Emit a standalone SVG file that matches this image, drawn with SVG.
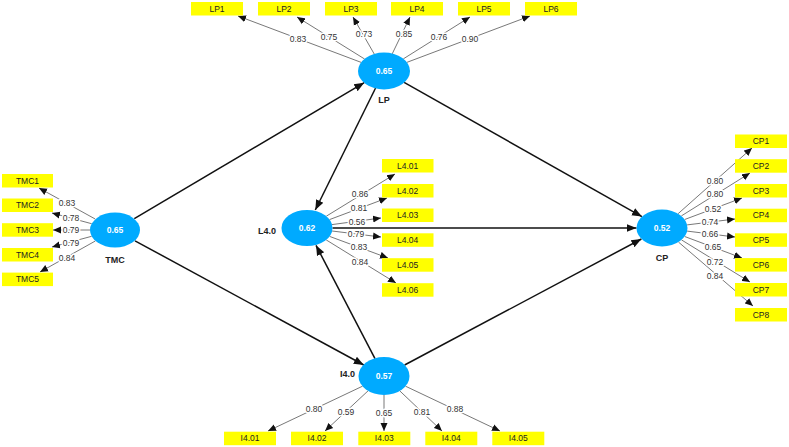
<svg xmlns="http://www.w3.org/2000/svg" width="789" height="447" viewBox="0 0 789 447">
<style>
.box{fill:#ffff00}
.bt{font-family:"Liberation Sans",Arial,sans-serif;font-size:8.5px;fill:#222;text-anchor:middle}
.lv{fill:#00aaff}
.lvt{font-family:"Liberation Sans",Arial,sans-serif;font-size:8.5px;font-weight:bold;fill:#fff;text-anchor:middle}
.nm{font-family:"Liberation Sans",Arial,sans-serif;font-size:9px;font-weight:bold;fill:#222}
.ld{stroke:#555;stroke-width:0.8;fill:none;marker-end:url(#sa)}
.st{stroke:#111;stroke-width:1.5;fill:none;marker-end:url(#ba)}
.lb{font-family:"Liberation Sans",Arial,sans-serif;font-size:8.5px;fill:#333;text-anchor:middle;stroke:#fff;stroke-width:3;paint-order:stroke;stroke-linejoin:round}
</style>
<defs>
<marker id="sa" markerUnits="userSpaceOnUse" markerWidth="8" markerHeight="8" viewBox="0 0 8 8" refX="8" refY="4" orient="auto"><path d="M0,0.5 L8,4 L0,7.5 Z" fill="#111"/></marker>
<marker id="ba" markerUnits="userSpaceOnUse" markerWidth="10" markerHeight="10" viewBox="0 0 10 10" refX="10" refY="5" orient="auto"><path d="M0,1 L10,5 L0,9 Z" fill="#111"/></marker>
</defs>
<rect width="789" height="447" fill="#fff"/>
<g id="connectors">
<line class="st" x1="134.3" y1="218.6" x2="364.2" y2="82.7"/>
<line class="st" x1="135" y1="240.8" x2="363.8" y2="365"/>
<line class="st" x1="375.6" y1="88" x2="315.3" y2="210"/>
<line class="st" x1="375" y1="358.7" x2="316" y2="245.3"/>
<line class="st" x1="404.1" y1="82.4" x2="641.9" y2="216.6"/>
<line class="st" x1="404.6" y1="365" x2="641.4" y2="239"/>
<line class="st" x1="332.5" y1="228" x2="636.5" y2="228"/>
<line class="ld" x1="361.2" y1="62.4" x2="238" y2="16"/>
<line class="ld" x1="364.6" y1="59" x2="297" y2="17"/>
<line class="ld" x1="374.4" y1="54.3" x2="353" y2="17"/>
<line class="ld" x1="392.2" y1="53.9" x2="410" y2="17"/>
<line class="ld" x1="403.3" y1="58.9" x2="470" y2="17"/>
<line class="ld" x1="406.8" y1="62.4" x2="530" y2="16"/>
<line class="ld" x1="95.2" y1="219" x2="39" y2="188"/>
<line class="ld" x1="91.6" y1="223.7" x2="52" y2="213"/>
<line class="ld" x1="90" y1="230" x2="53" y2="230"/>
<line class="ld" x1="91.6" y1="236.3" x2="52" y2="247"/>
<line class="ld" x1="95.3" y1="241" x2="40" y2="272"/>
<line class="ld" x1="326.3" y1="216.2" x2="395" y2="174"/>
<line class="ld" x1="329.5" y1="219.6" x2="387" y2="198"/>
<line class="ld" x1="332" y1="224.6" x2="381" y2="218"/>
<line class="ld" x1="332.1" y1="231" x2="381" y2="237"/>
<line class="ld" x1="329.6" y1="236.4" x2="388" y2="258"/>
<line class="ld" x1="326.2" y1="239.9" x2="396" y2="283"/>
<line class="ld" x1="678.1" y1="213.7" x2="752" y2="148"/>
<line class="ld" x1="681.4" y1="215.9" x2="750" y2="173"/>
<line class="ld" x1="684.7" y1="219.5" x2="742" y2="198"/>
<line class="ld" x1="687.1" y1="224.9" x2="735" y2="219"/>
<line class="ld" x1="687.1" y1="231.1" x2="735" y2="237"/>
<line class="ld" x1="684.7" y1="236.5" x2="742" y2="258"/>
<line class="ld" x1="681.5" y1="239.9" x2="750" y2="282"/>
<line class="ld" x1="678.5" y1="242.1" x2="753" y2="306"/>
<line class="ld" x1="362.5" y1="386.2" x2="268" y2="431"/>
<line class="ld" x1="368.1" y1="390.8" x2="325" y2="431"/>
<line class="ld" x1="384" y1="395" x2="384" y2="431"/>
<line class="ld" x1="399.7" y1="390.8" x2="442" y2="431"/>
<line class="ld" x1="405.5" y1="386.2" x2="500" y2="431"/>
<g id="loadings">
<text class="lb" x="298" y="42">0.83</text>
<text class="lb" x="329" y="40">0.75</text>
<text class="lb" x="364" y="37">0.73</text>
<text class="lb" x="404" y="37">0.85</text>
<text class="lb" x="439" y="40">0.76</text>
<text class="lb" x="470" y="42">0.90</text>
<text class="lb" x="67" y="206">0.83</text>
<text class="lb" x="71" y="221">0.78</text>
<text class="lb" x="71" y="233">0.79</text>
<text class="lb" x="71" y="246">0.79</text>
<text class="lb" x="67" y="261">0.84</text>
<text class="lb" x="360" y="197">0.86</text>
<text class="lb" x="359" y="211">0.81</text>
<text class="lb" x="357" y="225">0.56</text>
<text class="lb" x="356" y="237">0.79</text>
<text class="lb" x="359" y="250">0.83</text>
<text class="lb" x="360" y="265">0.84</text>
<text class="lb" x="715" y="184">0.80</text>
<text class="lb" x="715" y="197">0.80</text>
<text class="lb" x="713" y="212">0.52</text>
<text class="lb" x="710" y="225">0.74</text>
<text class="lb" x="710" y="237">0.66</text>
<text class="lb" x="713" y="250">0.65</text>
<text class="lb" x="715" y="265">0.72</text>
<text class="lb" x="715" y="279">0.84</text>
<text class="lb" x="314" y="412">0.80</text>
<text class="lb" x="346" y="415">0.59</text>
<text class="lb" x="384" y="416">0.65</text>
<text class="lb" x="422" y="415">0.81</text>
<text class="lb" x="455" y="412">0.88</text>
</g>
</g>
<g id="LP"><ellipse class="lv" cx="384" cy="71" rx="26" ry="18.5"/><text class="lvt" x="384" y="74">0.65</text><text class="nm" x="384" y="103" text-anchor="middle">LP</text></g>
<g id="TMC"><ellipse class="lv" cx="115" cy="230" rx="25" ry="17.5"/><text class="lvt" x="115" y="233">0.65</text><text class="nm" x="115" y="263" text-anchor="middle">TMC</text></g>
<g id="L4.0"><ellipse class="lv" cx="307" cy="228" rx="25.5" ry="18"/><text class="lvt" x="307" y="231">0.62</text><text class="nm" x="276" y="234" text-anchor="end">L4.0</text></g>
<g id="CP"><ellipse class="lv" cx="662" cy="228" rx="25.5" ry="18.5"/><text class="lvt" x="662" y="231">0.52</text><text class="nm" x="662" y="261" text-anchor="middle">CP</text></g>
<g id="I4.0"><ellipse class="lv" cx="384" cy="376" rx="25.5" ry="19"/><text class="lvt" x="384" y="379">0.57</text><text class="nm" x="355" y="377" text-anchor="end">I4.0</text></g>
<g id="LP1"><rect class="box" x="191" y="2" width="52" height="13.5"/><text class="bt" x="217" y="11.7">LP1</text></g>
<g id="LP2"><rect class="box" x="258" y="2" width="52" height="13.5"/><text class="bt" x="284" y="11.7">LP2</text></g>
<g id="LP3"><rect class="box" x="325" y="2" width="52" height="13.5"/><text class="bt" x="351" y="11.7">LP3</text></g>
<g id="LP4"><rect class="box" x="391" y="2" width="52" height="13.5"/><text class="bt" x="417" y="11.7">LP4</text></g>
<g id="LP5"><rect class="box" x="458" y="2" width="52" height="13.5"/><text class="bt" x="484" y="11.7">LP5</text></g>
<g id="LP6"><rect class="box" x="525" y="2" width="52" height="13.5"/><text class="bt" x="551" y="11.7">LP6</text></g>
<g id="TMC1"><rect class="box" x="2" y="174" width="51" height="13.5"/><text class="bt" x="27.5" y="183.7">TMC1</text></g>
<g id="TMC2"><rect class="box" x="2" y="198.5" width="51" height="13.5"/><text class="bt" x="27.5" y="208.2">TMC2</text></g>
<g id="TMC3"><rect class="box" x="2" y="223.2" width="51" height="13.5"/><text class="bt" x="27.5" y="232.9">TMC3</text></g>
<g id="TMC4"><rect class="box" x="2" y="248" width="51" height="13.5"/><text class="bt" x="27.5" y="257.7">TMC4</text></g>
<g id="TMC5"><rect class="box" x="2" y="272.6" width="51" height="13.5"/><text class="bt" x="27.5" y="282.3">TMC5</text></g>
<g id="L4.01"><rect class="box" x="382" y="159" width="51.5" height="13.5"/><text class="bt" x="407.7" y="168.7">L4.01</text></g>
<g id="L4.02"><rect class="box" x="382" y="184" width="51.5" height="13.5"/><text class="bt" x="407.7" y="193.7">L4.02</text></g>
<g id="L4.03"><rect class="box" x="382" y="208.5" width="51.5" height="13.5"/><text class="bt" x="407.7" y="218.2">L4.03</text></g>
<g id="L4.04"><rect class="box" x="382" y="233.3" width="51.5" height="13.5"/><text class="bt" x="407.7" y="243">L4.04</text></g>
<g id="L4.05"><rect class="box" x="382" y="258.2" width="51.5" height="13.5"/><text class="bt" x="407.7" y="267.9">L4.05</text></g>
<g id="L4.06"><rect class="box" x="382" y="283.2" width="51.5" height="13.5"/><text class="bt" x="407.7" y="292.9">L4.06</text></g>
<g id="CP1"><rect class="box" x="735" y="134.5" width="52" height="13.5"/><text class="bt" x="761" y="144.2">CP1</text></g>
<g id="CP2"><rect class="box" x="735" y="159.2" width="52" height="13.5"/><text class="bt" x="761" y="168.9">CP2</text></g>
<g id="CP3"><rect class="box" x="735" y="184" width="52" height="13.5"/><text class="bt" x="761" y="193.7">CP3</text></g>
<g id="CP4"><rect class="box" x="735" y="208.7" width="52" height="13.5"/><text class="bt" x="761" y="218.4">CP4</text></g>
<g id="CP5"><rect class="box" x="735" y="233.3" width="52" height="13.5"/><text class="bt" x="761" y="243">CP5</text></g>
<g id="CP6"><rect class="box" x="735" y="258.1" width="52" height="13.5"/><text class="bt" x="761" y="267.8">CP6</text></g>
<g id="CP7"><rect class="box" x="735" y="283" width="52" height="13.5"/><text class="bt" x="761" y="292.7">CP7</text></g>
<g id="CP8"><rect class="box" x="735" y="308" width="52" height="13.5"/><text class="bt" x="761" y="317.7">CP8</text></g>
<g id="I4.01"><rect class="box" x="224" y="431.7" width="52" height="13.5"/><text class="bt" x="250" y="441.4">I4.01</text></g>
<g id="I4.02"><rect class="box" x="291" y="431.7" width="52" height="13.5"/><text class="bt" x="317" y="441.4">I4.02</text></g>
<g id="I4.03"><rect class="box" x="358.3" y="431.7" width="52" height="13.5"/><text class="bt" x="384.3" y="441.4">I4.03</text></g>
<g id="I4.04"><rect class="box" x="425.3" y="431.7" width="52" height="13.5"/><text class="bt" x="451.3" y="441.4">I4.04</text></g>
<g id="I4.05"><rect class="box" x="492.3" y="431.7" width="52" height="13.5"/><text class="bt" x="518.3" y="441.4">I4.05</text></g>
</svg>
